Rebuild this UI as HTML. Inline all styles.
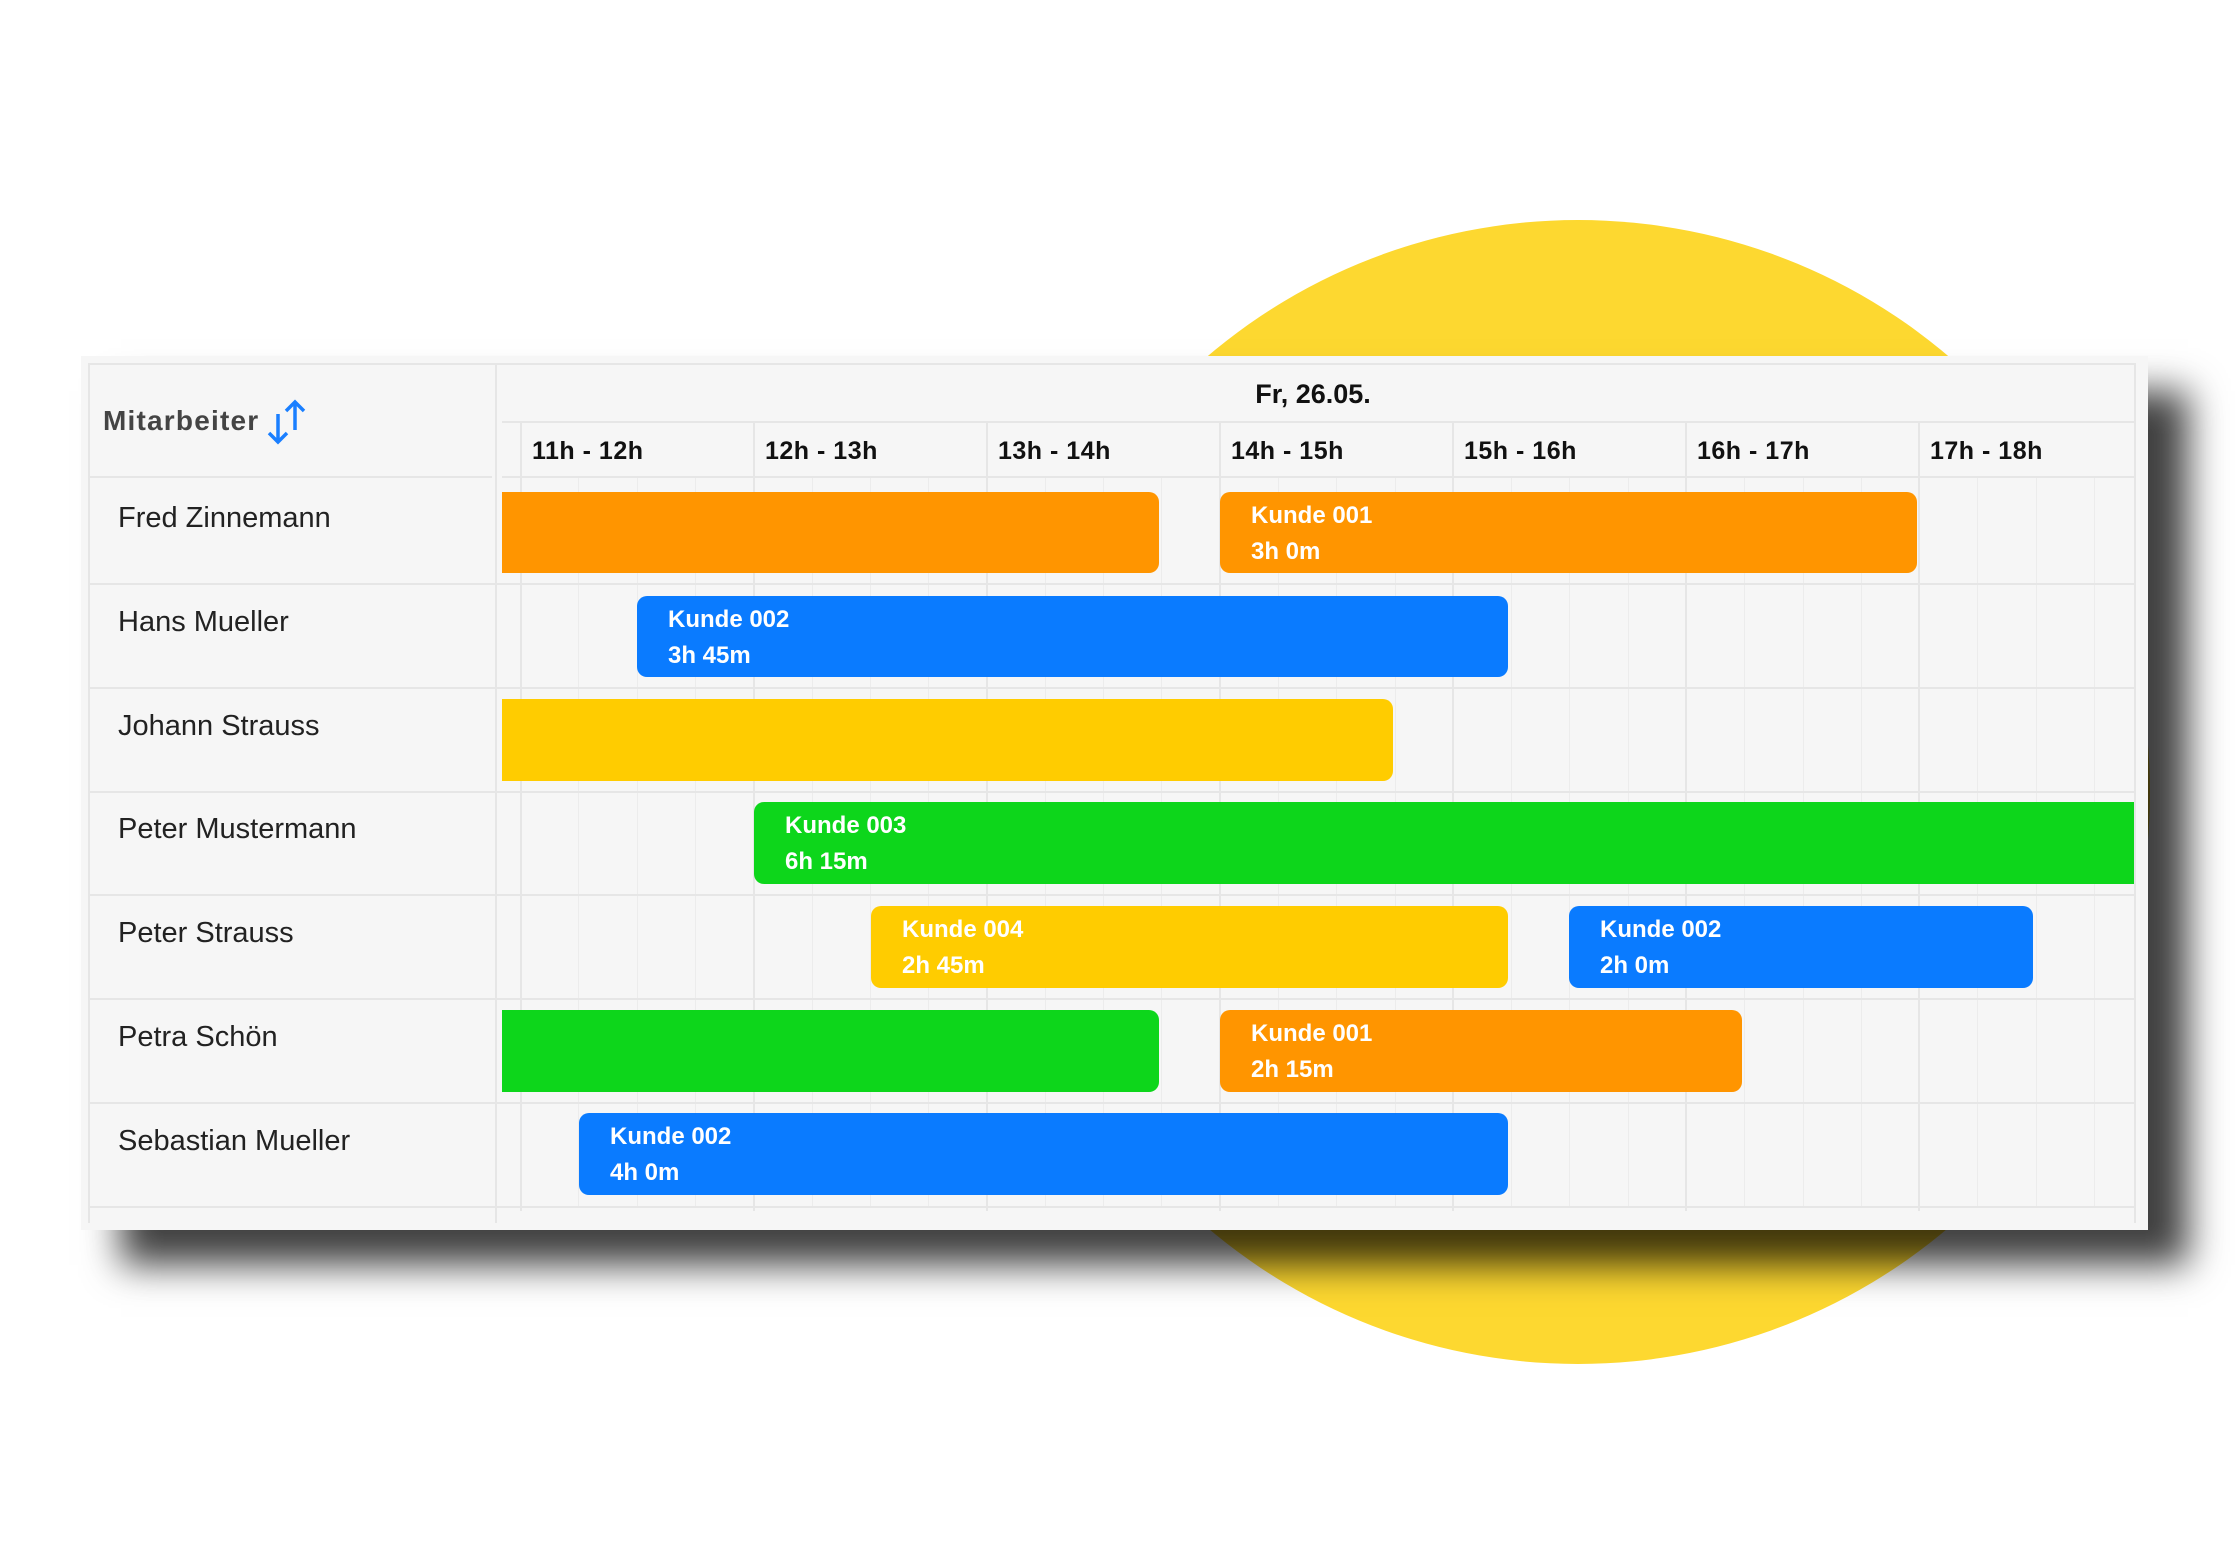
<!DOCTYPE html>
<html><head><meta charset="utf-8"><style>
*{margin:0;padding:0;box-sizing:border-box}
body{width:2235px;height:1550px;background:#fff;position:relative;overflow:hidden;font-family:"Liberation Sans",sans-serif}
.abs{position:absolute}
#circle{left:1006px;top:220px;width:1144px;height:1144px;border-radius:50%;background:#FDD830}
#panel{left:81px;top:356px;width:2067px;height:874px;background:#f6f6f6;box-shadow:40px 35px 35px rgba(0,0,0,.75)}
.hl{position:absolute;height:2px;background:#e6e6e6}
.vl{position:absolute;width:2px;background:#e6e6e6}
.sl{position:absolute;width:1px;background:#ececec}
.name{position:absolute;left:118px;font-size:29px;color:#222}
.hr{position:absolute;top:437px;font-size:25px;font-weight:bold;color:#111;letter-spacing:0.5px}
.bar{position:absolute;border-radius:10px;color:#fff;font-weight:bold;font-size:24px;line-height:36px;padding:6px 0 0 31px}
.sq{border-top-left-radius:0;border-bottom-left-radius:0}
.sqr{border-top-right-radius:0;border-bottom-right-radius:0}
.o{background:#FF9500}.b{background:#0A7BFF}.y{background:#FFCC00}.g{background:#0DD61B}
</style></head><body>
<div id="circle" class="abs"></div>
<div id="panel" class="abs"></div>
<div class="hl" style="left:88px;top:363px;width:2046px"></div>
<div class="vl" style="left:88px;top:363px;height:860px"></div>
<div class="vl" style="left:2134px;top:363px;height:860px"></div>
<div class="vl" style="left:495px;top:363px;height:860px"></div>
<div class="hl" style="left:502px;top:421px;width:1632px"></div>
<div class="hl" style="left:502px;top:476px;width:1632px"></div>
<div class="hl" style="left:88px;top:476px;width:404px"></div>
<div id="sub"></div>
<div class="vl" style="left:520px;top:421px;height:790px"></div>
<div class="vl" style="left:753px;top:421px;height:790px"></div>
<div class="vl" style="left:986px;top:421px;height:790px"></div>
<div class="vl" style="left:1219px;top:421px;height:790px"></div>
<div class="vl" style="left:1452px;top:421px;height:790px"></div>
<div class="vl" style="left:1685px;top:421px;height:790px"></div>
<div class="vl" style="left:1918px;top:421px;height:790px"></div>
<div class="hl" style="left:88px;top:583px;width:2046px"></div>
<div class="hl" style="left:88px;top:687px;width:2046px"></div>
<div class="hl" style="left:88px;top:791px;width:2046px"></div>
<div class="hl" style="left:88px;top:894px;width:2046px"></div>
<div class="hl" style="left:88px;top:998px;width:2046px"></div>
<div class="hl" style="left:88px;top:1102px;width:2046px"></div>
<div class="hl" style="left:88px;top:1206px;width:2046px"></div>
<script>
var s='';for(var h=0;h<7;h++)for(var q=1;q<4;q++){var x=520+h*233.2+q*58.3;s+='<div class="sl" style="left:'+x.toFixed(0)+'px;top:478px;height:728px"></div>';}
document.getElementById('sub').innerHTML=s;
</script>
<div class="abs" style="left:103px;top:405px;font-size:28px;font-weight:bold;color:#444;letter-spacing:1.2px">Mitarbeiter</div>
<svg class="abs" style="left:262px;top:398px" width="50" height="48" viewBox="0 0 50 48">
<path d="M16 16 V44 M7 35 L16 44 L25 35" stroke="#1a7fff" stroke-width="3.5" fill="none"/>
<path d="M33 4 V32 M24 13 L33 4 L42 13" stroke="#1a7fff" stroke-width="3.5" fill="none"/>
</svg>
<div class="abs" style="left:1213px;top:379px;width:200px;text-align:center;font-size:27px;font-weight:bold;color:#111">Fr, 26.05.</div>
<div class="hr" style="left:532px">11h - 12h</div>
<div class="hr" style="left:765px">12h - 13h</div>
<div class="hr" style="left:998px">13h - 14h</div>
<div class="hr" style="left:1231px">14h - 15h</div>
<div class="hr" style="left:1464px">15h - 16h</div>
<div class="hr" style="left:1697px">16h - 17h</div>
<div class="hr" style="left:1930px">17h - 18h</div>
<div class="name" style="top:502px">Fred Zinnemann</div>
<div class="name" style="top:606px">Hans Mueller</div>
<div class="name" style="top:710px">Johann Strauss</div>
<div class="name" style="top:813px">Peter Mustermann</div>
<div class="name" style="top:917px">Peter Strauss</div>
<div class="name" style="top:1021px">Petra Schön</div>
<div class="name" style="top:1125px">Sebastian Mueller</div>
<div class="bar o sq" style="left:502px;top:492px;width:657px;height:81px"></div>
<div class="bar o" style="left:1220px;top:492px;width:697px;height:81px">Kunde 001<br>3h 0m</div>
<div class="bar b" style="left:637px;top:596px;width:871px;height:81px">Kunde 002<br>3h 45m</div>
<div class="bar y sq" style="left:502px;top:699px;width:891px;height:82px"></div>
<div class="bar g sqr" style="left:754px;top:802px;width:1380px;height:82px">Kunde 003<br>6h 15m</div>
<div class="bar y" style="left:871px;top:906px;width:637px;height:82px">Kunde 004<br>2h 45m</div>
<div class="bar b" style="left:1569px;top:906px;width:464px;height:82px">Kunde 002<br>2h 0m</div>
<div class="bar g sq" style="left:502px;top:1010px;width:657px;height:82px"></div>
<div class="bar o" style="left:1220px;top:1010px;width:522px;height:82px">Kunde 001<br>2h 15m</div>
<div class="bar b" style="left:579px;top:1113px;width:929px;height:82px">Kunde 002<br>4h 0m</div>
</body></html>
